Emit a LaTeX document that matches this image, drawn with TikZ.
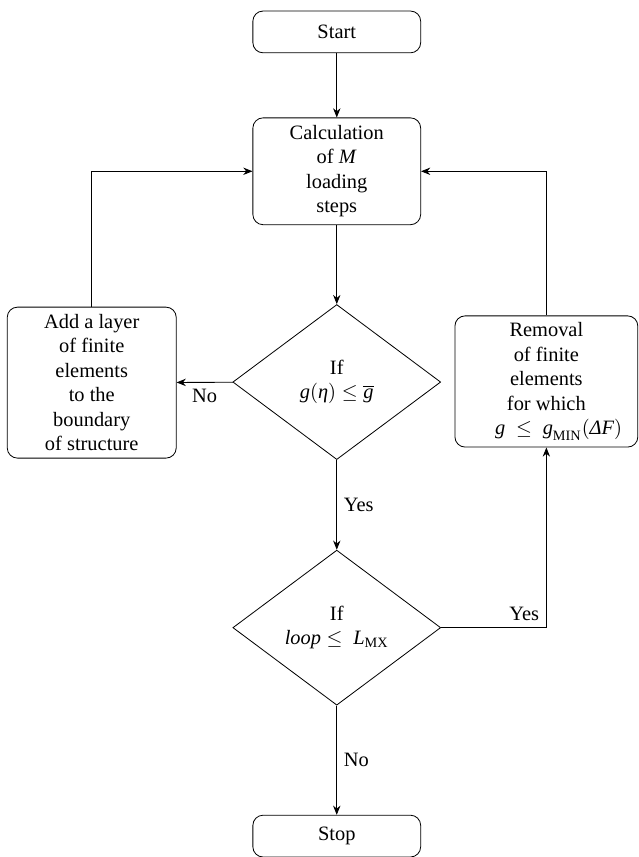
\documentclass[tikz,border=0pt]{standalone}
\usepackage{fontspec}
\setmainfont{Liberation Serif}
\usetikzlibrary{shapes.geometric,arrows.meta}
\newcommand{\vi}[1]{\textit{#1}}

\begin{document}
\begin{tikzpicture}[
  terminal/.style={draw,rounded corners=5pt,minimum width=2.89cm,minimum height=0.72cm,align=center},
  block/.style={draw,rounded corners=5pt,align=center,inner sep=0pt},
  decision/.style={draw,diamond,inner sep=0pt,minimum width=3.58cm,minimum height=2.67cm,align=center},
  line/.style={-{Stealth[length=4.5pt,width=3.6pt]}}]
  \useasboundingbox (0,0) rectangle (10.99,-14.76);
  % main column
  \node[terminal] (start) at (5.80,-0.55) {Start};
  \node[block,minimum width=2.89cm,minimum height=1.84cm] (calc) at (5.80,-2.95)
    {Calculation\\of \vi{M}\\loading\\steps};
  \node[decision] (ifg) at (5.80,-6.58) {If\\$\vi{g}(\vi{η})\leq\overline{\vi{g}}$};
  \node[decision] (ifloop) at (5.80,-10.81) {If\\$\vi{loop}\leq~\vi{L}_{\mathrm{MX}}$};
  \node[terminal] (stop) at (5.80,-14.40) {Stop};
  % side boxes
  \node[block,minimum width=2.91cm,minimum height=2.60cm] (addlayer) at (1.58,-6.59)
    {Add a layer\\of finite\\elements\\to the\\boundary\\of structure};
  \node[block,minimum width=3.15cm,minimum height=2.26cm] (removal) at (9.41,-6.57)
    {Removal\\of finite\\elements\\for which\\\hspace{1.2em}$\vi{g}~\leq~\vi{g}_{\mathrm{MIN}}(\vi{Δ}\vi{F})$};
  % connectors
  \draw[line] (start) -- (calc);
  \draw[line] (calc) -- (ifg);
  \draw[line] (ifg) -- node[below] {No} (addlayer);
  \draw[line] (addlayer.north) |- (calc.west);
  \draw[line] (ifg) -- node[right] {Yes} (ifloop);
  \draw[line] (ifloop) -| node[pos=0.5,above left] {Yes} (removal.south);
  \draw[line] (removal.north) |- (calc.east);
  \draw[line] (ifloop) -- node[right] {No} (stop);
\end{tikzpicture}
\end{document}
